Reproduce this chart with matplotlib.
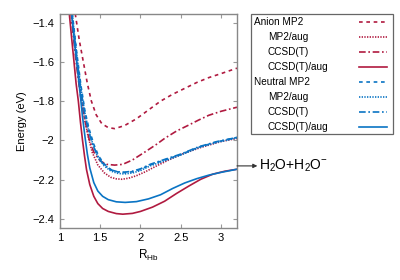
import numpy as np
import matplotlib
matplotlib.use('Agg')
import matplotlib.pyplot as plt
from matplotlib.lines import Line2D
from matplotlib.patches import Rectangle
from matplotlib.ticker import FuncFormatter

plt.rcParams['font.family'] = ['Liberation Sans', 'DejaVu Sans']
plt.rcParams['mathtext.default'] = 'regular'
plt.rcParams['axes.unicode_minus'] = True

# ---- data (R_Hb in Angstrom, energy in eV) ----
anion_mp2_R = [1.17, 1.19, 1.24, 1.29, 1.34, 1.39, 1.45, 1.52, 1.60, 1.68, 1.80, 1.95,
               2.10, 2.25, 2.40, 2.55, 2.70, 2.85, 3.00, 3.20]
anion_mp2_E = [-1.25, -1.356, -1.49, -1.60, -1.71, -1.80, -1.87, -1.915, -1.935, -1.940,
               -1.925, -1.89, -1.845, -1.80, -1.765, -1.735, -1.705, -1.68, -1.66, -1.632]

anion_mp2aug_R = [1.12, 1.15, 1.20, 1.25, 1.30, 1.35, 1.40, 1.47, 1.55, 1.63, 1.70, 1.77,
                  1.85, 1.95, 2.06, 2.20, 2.35, 2.50, 2.75, 3.00, 3.20]
anion_mp2aug_E = [-1.25, -1.38, -1.57, -1.74, -1.88, -1.98, -2.06, -2.125, -2.165, -2.188,
                  -2.196, -2.198, -2.193, -2.18, -2.16, -2.13, -2.10, -2.072, -2.036, -2.006, -1.99]

anion_ccsdt_R = [1.12, 1.15, 1.20, 1.25, 1.30, 1.36, 1.42, 1.50, 1.58, 1.68, 1.78, 1.90,
                 2.06, 2.20, 2.30, 2.45, 2.60, 2.72, 2.85, 3.00, 3.20]
anion_ccsdt_E = [-1.28, -1.41, -1.60, -1.76, -1.88, -1.99, -2.06, -2.105, -2.122, -2.126,
                 -2.122, -2.10, -2.058, -2.02, -1.99, -1.952, -1.922, -1.897, -1.872, -1.852, -1.831]

anion_ccsdtaug_R = [1.10, 1.116, 1.145, 1.174, 1.20, 1.228, 1.255, 1.28, 1.305, 1.33, 1.37,
                    1.42, 1.47, 1.53, 1.60, 1.70, 1.78, 1.90, 2.00, 2.15, 2.30, 2.45, 2.60,
                    2.75, 2.90, 3.05, 3.20]
anion_ccsdtaug_E = [-1.28, -1.356, -1.48, -1.60, -1.71, -1.80, -1.91, -2.00, -2.08, -2.15,
                    -2.225, -2.285, -2.322, -2.347, -2.362, -2.373, -2.376, -2.372, -2.362,
                    -2.34, -2.31, -2.27, -2.233, -2.198, -2.172, -2.157, -2.147]

neutral_mp2_R = [1.13, 1.16, 1.21, 1.26, 1.31, 1.36, 1.42, 1.48, 1.55, 1.63, 1.72, 1.80,
                 1.90, 2.00, 2.12, 2.30, 2.50, 2.72, 2.95, 3.20]
neutral_mp2_E = [-1.27, -1.38, -1.56, -1.72, -1.85, -1.94, -2.02, -2.08, -2.12, -2.148,
                 -2.161, -2.164, -2.16, -2.148, -2.125, -2.10, -2.072, -2.035, -2.008, -1.985]

neutral_mp2aug_R = [1.13, 1.16, 1.21, 1.26, 1.31, 1.36, 1.42, 1.48, 1.55, 1.63, 1.72, 1.80,
                    1.90, 2.00, 2.12, 2.30, 2.50, 2.72, 2.95, 3.20]
neutral_mp2aug_E = [-1.27, -1.39, -1.575, -1.735, -1.865, -1.955, -2.035, -2.092, -2.13,
                    -2.156, -2.168, -2.171, -2.166, -2.154, -2.13, -2.104, -2.075, -2.037,
                    -2.01, -1.987]

neutral_ccsdt_R = [1.13, 1.16, 1.21, 1.26, 1.31, 1.36, 1.42, 1.48, 1.55, 1.63, 1.72, 1.80,
                   1.90, 2.00, 2.12, 2.30, 2.50, 2.72, 2.95, 3.20]
neutral_ccsdt_E = [-1.28, -1.40, -1.585, -1.745, -1.875, -1.96, -2.035, -2.09, -2.125,
                   -2.15, -2.16, -2.162, -2.157, -2.145, -2.122, -2.097, -2.07, -2.033,
                   -2.006, -1.985]

neutral_ccsdtaug_R = [1.13, 1.145, 1.18, 1.21, 1.25, 1.28, 1.31, 1.34, 1.37, 1.42, 1.47,
                      1.53, 1.60, 1.70, 1.81, 1.95, 2.10, 2.25, 2.40, 2.55, 2.70, 2.85,
                      3.00, 3.20]
neutral_ccsdtaug_E = [-1.28, -1.356, -1.50, -1.61, -1.76, -1.88, -1.98, -2.07, -2.14,
                      -2.215, -2.258, -2.285, -2.302, -2.313, -2.316, -2.312, -2.298, -2.277,
                      -2.245, -2.217, -2.195, -2.177, -2.163, -2.147]

legend_labels = ['Anion MP2', 'MP2/aug', 'CCSD(T)', 'CCSD(T)/aug',
                 'Neutral MP2', 'MP2/aug', 'CCSD(T)', 'CCSD(T)/aug']
x_ticks = [1, 1.5, 2, 2.5, 3]
y_ticks = [-1.4, -1.6, -1.8, -2.0, -2.2, -2.4]
limit_label = r'H$_2$O+H$_2$O$^{-}$'
limit_E = -2.13

RED = '#b01a40'
BLUE = '#0a74c4'
styles = [(0, (2.2, 2.2)), (0, (0.8, 0.8)), (0, (4, 1.6, 1, 1.6)), '-']

curves = [
    (anion_mp2_R, anion_mp2_E, RED, styles[0]),
    (anion_mp2aug_R, anion_mp2aug_E, RED, styles[1]),
    (anion_ccsdt_R, anion_ccsdt_E, RED, styles[2]),
    (anion_ccsdtaug_R, anion_ccsdtaug_E, RED, styles[3]),
    (neutral_mp2_R, neutral_mp2_E, BLUE, styles[0]),
    (neutral_mp2aug_R, neutral_mp2aug_E, BLUE, styles[1]),
    (neutral_ccsdt_R, neutral_ccsdt_E, BLUE, styles[2]),
    (neutral_ccsdtaug_R, neutral_ccsdtaug_E, BLUE, styles[3]),
]

fig = plt.figure(figsize=(4, 2.8), dpi=100)
ax = fig.add_axes([0.15, 0.186, 0.4425, 0.764])

for R, E, c, ls in curves:
    ax.plot(R, E, color=c, linestyle=ls, linewidth=1.2)

ax.set_xlim(1, 3.2)
ax.set_ylim(-2.446, -1.356)
ax.set_xticks(x_ticks)
ax.set_yticks(y_ticks)
fmt = FuncFormatter(lambda v, p: ('%g' % v).replace('-', '\u2212'))
ax.xaxis.set_major_formatter(fmt)
ax.yaxis.set_major_formatter(fmt)
ax.tick_params(direction='in', length=3, width=0.8, color='#999999',
               top=True, right=True, labelsize=8, pad=4)
for s in ax.spines.values():
    s.set_color('#888888')
    s.set_linewidth(1.0)
ax.set_xlabel('R$_{Hb}$', fontsize=8.5, labelpad=3)
ax.set_ylabel('Energy (eV)', fontsize=8, labelpad=4)

# arrow to dissociation limit
ax.annotate('', xy=(1.115, limit_E), xycoords=('axes fraction', 'data'),
            xytext=(1.0, limit_E), textcoords=('axes fraction', 'data'),
            arrowprops=dict(arrowstyle='-|>', color='#333333', lw=0.8,
                            mutation_scale=6, shrinkA=0, shrinkB=0),
            annotation_clip=False)
ax.text(1.125, limit_E, limit_label, transform=ax.get_yaxis_transform(),
        fontsize=10, va='center', ha='left', clip_on=False)

# legend drawn by hand (labels left, samples right, as in the reference)
W, H = 400.0, 280.0
fig.add_artist(Rectangle((251 / W, 1 - 134 / H), 142 / W, 120 / H,
                         transform=fig.transFigure, fill=False,
                         edgecolor='#666666', linewidth=0.9))
for i, (lab, (R, E, c, ls)) in enumerate(zip(legend_labels, curves)):
    yc = 1 - (22.3 + i * 14.9) / H
    xt = 254 / W if i % 4 == 0 else 268 / W
    fig.text(xt, yc, lab, fontsize=7.2, va='center', ha='left')
    fig.add_artist(Line2D([359 / W, 387 / W], [yc, yc], color=c, linestyle=ls,
                          linewidth=1.2, transform=fig.transFigure))

fig.savefig('out.png', dpi=100)
